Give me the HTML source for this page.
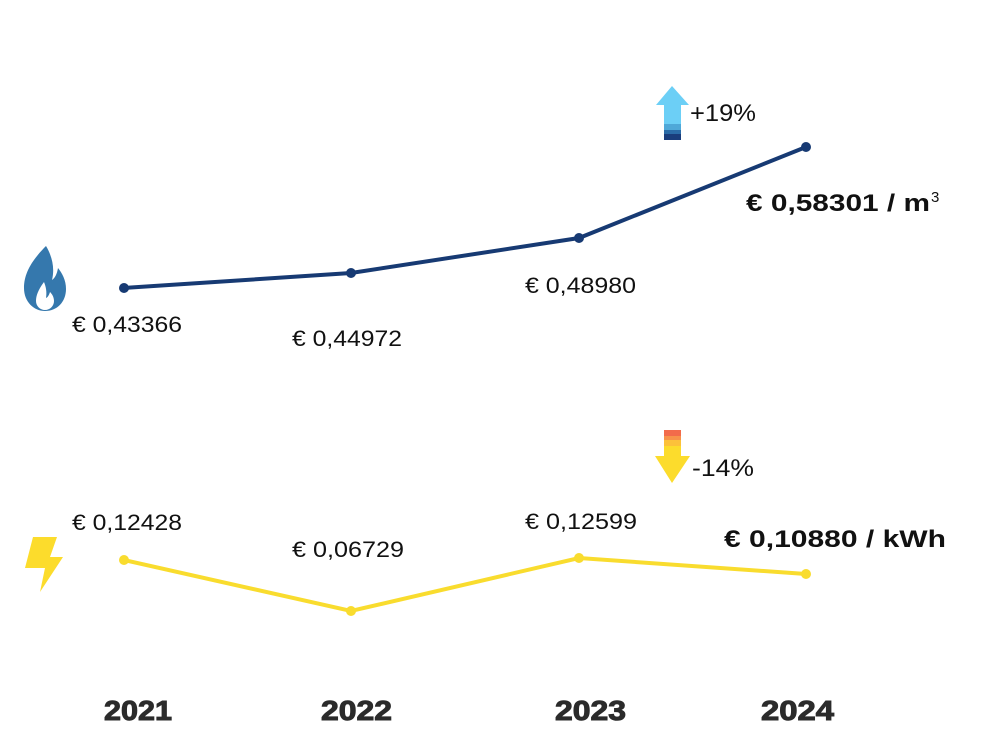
<!DOCTYPE html>
<html><head><meta charset="utf-8"><style>
body{margin:0;background:#fff}
svg text{font-family:"Liberation Sans",sans-serif}
</style></head><body>
<svg width="1000" height="750" viewBox="0 0 1000 750" xmlns="http://www.w3.org/2000/svg">
<polyline points="124,288 351,273 579,238 806,147" fill="none" stroke="#173a73" stroke-width="4"/>
<g fill="#173a73"><circle cx="124" cy="288" r="5"/><circle cx="351" cy="273" r="5"/><circle cx="579" cy="238" r="5"/><circle cx="806" cy="147" r="5"/></g>
<polyline points="124,560 351,611 579,558 806,574" fill="none" stroke="#f9dc2e" stroke-width="4"/>
<g fill="#f9dc2e"><circle cx="124" cy="560" r="5"/><circle cx="351" cy="611" r="5"/><circle cx="579" cy="558" r="5"/><circle cx="806" cy="574" r="5"/></g>
<g font-size="22" fill="#111">
<text x="72" y="332" textLength="110" lengthAdjust="spacingAndGlyphs">€ 0,43366</text>
<text x="292" y="346" textLength="110" lengthAdjust="spacingAndGlyphs">€ 0,44972</text>
<text x="525" y="293" textLength="111" lengthAdjust="spacingAndGlyphs">€ 0,48980</text>
<text x="72" y="530" textLength="110" lengthAdjust="spacingAndGlyphs">€ 0,12428</text>
<text x="292" y="557" textLength="112" lengthAdjust="spacingAndGlyphs">€ 0,06729</text>
<text x="525" y="529" textLength="112" lengthAdjust="spacingAndGlyphs">€ 0,12599</text>
</g>
<text x="746" y="211" font-size="24" font-weight="bold" fill="#111" textLength="184" lengthAdjust="spacingAndGlyphs">€ 0,58301 / m</text>
<text x="931" y="202" font-size="15" fill="#111">3</text>
<text x="724" y="547" font-size="24" font-weight="bold" fill="#111" textLength="222" lengthAdjust="spacingAndGlyphs">€ 0,10880 / kWh</text>
<polygon points="672,86 689,105 681,105 681,124 664,124 664,105 656,105" fill="#6ccff6"/>
<rect x="664" y="124" width="17" height="6" fill="#4fa8d8"/>
<rect x="664" y="130" width="17" height="4" fill="#2b6ca8"/>
<rect x="664" y="134" width="17" height="6" fill="#1a3d7c"/>
<text x="690" y="121" font-size="24" fill="#111" textLength="66" lengthAdjust="spacingAndGlyphs">+19%</text>
<rect x="664" y="430" width="17" height="6" fill="#f26b4b"/>
<rect x="664" y="436" width="17" height="4" fill="#f7934a"/>
<rect x="664" y="440" width="17" height="6" fill="#fcc13a"/>
<polygon points="664,446 681,446 681,456 690,456 672,483 655,456 664,456" fill="#fcdc2c"/>
<text x="692" y="476" font-size="24" fill="#111" textLength="62" lengthAdjust="spacingAndGlyphs">-14%</text>
<path d="M46,246 C30,262 24,275 24,288 C24,302 34,311 45,311 C57,311 66,302 66,289 C66,280 62,273 58,268 C57,274 55,278 52,280 C55,268 52,256 46,246 Z" fill="#3578ad"/>
<path d="M44,282 C38,290 36,296 36,301 C36,306 40,310 45,310 C50,310 54,306 54,301 C54,297 52,294 50,292 C49,295 48,297 46,298 C47,292 46,287 44,282 Z" fill="#fff"/>
<polygon points="33,537 57,537 50,557 63,557 40,592 45,568 25,568" fill="#fcdc2c"/>
<g font-size="28" font-weight="bold" fill="#2b2b2b" stroke="#2b2b2b" stroke-width="1">
<text x="104" y="720" textLength="68" lengthAdjust="spacingAndGlyphs">2021</text>
<text x="321" y="720" textLength="71" lengthAdjust="spacingAndGlyphs">2022</text>
<text x="555" y="720" textLength="71" lengthAdjust="spacingAndGlyphs">2023</text>
<text x="761" y="720" textLength="73" lengthAdjust="spacingAndGlyphs">2024</text>
</g>
</svg>
</body></html>
